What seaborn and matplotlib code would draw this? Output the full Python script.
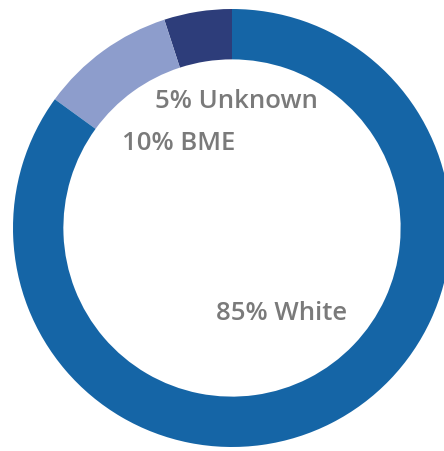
import matplotlib
matplotlib.use("Agg")
import matplotlib.pyplot as plt
import seaborn as sns

# Ethnicity breakdown
categories = ["Unknown", "BME", "White"]
shares = [5, 10, 85]
labels = ["5% Unknown", "10% BME", "85% White"]
colors = ["#2d3d7a", "#8d9dcc", "#1565a6"]

sns.set_theme(style="white")
plt.rcParams["font.family"] = ["Open Sans", "DejaVu Sans"]

fig = plt.figure(figsize=(4.44, 4.51), dpi=100)
ax = fig.add_axes([0, 0, 1, 1])

ax.pie(shares, colors=colors, startangle=90, counterclock=True,
       radius=1.0, wedgeprops=dict(width=0.23, linewidth=0))

# keep a 219 px radius with the centre at (232, 228) px
R = 219.0
ax.set_xlim(-232 / R, (444 - 232) / R)
ax.set_ylim(-(451 - 228) / R, 228 / R)
ax.set_aspect("auto")
ax.axis("off")

positions = [(236, 101), (179, 144), (282, 313)]
for text, (px, py) in zip(labels, positions):
    ax.text((px - 232) / R, (228 - py) / R, text, ha="center", va="center",
            fontsize=18.5, fontweight="semibold", color="#7a7a7a")

fig.savefig("out.png", dpi=100, facecolor="white")
